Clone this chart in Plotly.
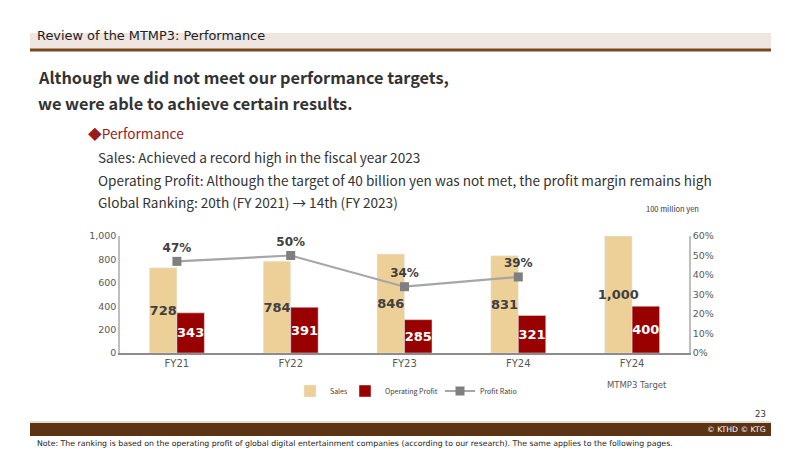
import plotly.graph_objects as go

categories = ["FY21", "FY22", "FY23", "FY24", "FY24 Target"]
tick_labels = ["FY21", "FY22", "FY23", "FY24", "FY24"]
target_note = "MTMP3 Target"
sales = [728, 784, 846, 831, 1000]
op_profit = [343, 391, 285, 321, 400]
ratio_cats = ["FY21", "FY22", "FY23", "FY24"]
profit_ratio = [0.47, 0.50, 0.34, 0.39]
y_ticks = [0, 200, 400, 600, 800, 1000]
y2_ticks = [0, 0.1, 0.2, 0.3, 0.4, 0.5, 0.6]

W, H = 800, 449
L, R, T, B = 120, 689, 236, 353

def px(x):
    return (x - L) / (R - L)

def py(y):
    return (B - y) / (B - T)

FONT = "Noto Sans CJK JP"
NUMF = "DejaVu Sans"

fig = go.Figure()
fig.add_trace(go.Bar(
    x=categories, y=sales, name="Sales", marker_color="#EDD098", legend="legend",
    texttemplate="%{y:,}", textposition="inside", insidetextanchor="middle",
    textangle=0, textfont=dict(family=NUMF, size=13, color="#404040", weight="bold"),
))
fig.add_trace(go.Bar(
    x=categories, y=op_profit, name="Operating Profit", marker_color="#990000", legend="legend2",
    texttemplate="%{y:,}", textposition="inside", insidetextanchor="middle",
    textangle=0, textfont=dict(family=NUMF, size=13, color="white", weight="bold"),
))
fig.add_trace(go.Scatter(
    x=ratio_cats, y=profit_ratio, name="Profit Ratio", yaxis="y2", legend="legend3",
    mode="lines+markers+text", line=dict(color="#A6A6A6", width=2.2),
    marker=dict(symbol="square", size=9, color="#7F7F7F"),
    texttemplate="%{y:.0%}", textposition="top center", cliponaxis=False,
    textfont=dict(family=NUMF, size=12, color="#404040", weight="bold"),
))

def leg(xleft):
    return dict(orientation="h", x=px(xleft), xanchor="left", yref="container",
                y=1 - 391 / H, yanchor="middle", bgcolor="rgba(0,0,0,0)",
                font=dict(family=FONT, size=7, color="#404040"), itemwidth=30)

fig.update_layout(
    width=W, height=H, margin=dict(l=L, r=W - R, t=T, b=H - B, autoexpand=False),
    paper_bgcolor="white", plot_bgcolor="white",
    barmode="group", bargap=0.517, bargroupgap=0,
    uniformtext=dict(minsize=13, mode="show"),
    showlegend=True,
    legend=leg(290), legend2=leg(345), legend3=leg(440),
    xaxis=dict(type="category", categoryarray=categories, tickvals=categories,
               ticktext=tick_labels, showline=True, linecolor="#8c8c8c", linewidth=1.5,
               ticks="", tickfont=dict(family=NUMF, size=10, color="#595959"),
               showgrid=False, fixedrange=True, automargin=False),
    yaxis=dict(range=[0, 1000], tickvals=y_ticks, tickformat=",", showgrid=False,
               showline=True, linecolor="#bfbfbf", linewidth=1.5, zeroline=False,
               tickfont=dict(family=NUMF, size=9.5, color="#595959"), ticks="",
               automargin=False),
    yaxis2=dict(range=[0, 0.6], tickvals=y2_ticks, tickformat=".0%", overlaying="y",
                side="right", showgrid=False, showline=True, linecolor="#bfbfbf",
                linewidth=1.5, zeroline=False, automargin=False,
                tickfont=dict(family=NUMF, size=9.5, color="#595959"), ticks=""),
    font=dict(family=FONT),
)

shapes = []
# header band
shapes.append(dict(type="rect", xref="paper", yref="paper", x0=px(30), x1=px(771),
                   y0=py(49), y1=py(33), fillcolor="#EFE6E2", line_width=0, layer="below"))
shapes.append(dict(type="rect", xref="paper", yref="paper", x0=px(30), x1=px(771),
                   y0=py(51.5), y1=py(48.5), fillcolor="#7A4A1E", line_width=0))
# footer
shapes.append(dict(type="line", xref="paper", yref="paper", x0=px(30), x1=px(771),
                   y0=py(422), y1=py(422), line=dict(color="#C9B9A8", width=1)))
shapes.append(dict(type="rect", xref="paper", yref="paper", x0=px(30), x1=px(771),
                   y0=py(436), y1=py(423), fillcolor="#5C3314", line_width=0))
fig.update_layout(shapes=shapes)

def txt(x, y, s, size, color="#333333", anchor="left", weight="normal", family=FONT):
    fig.add_annotation(xref="paper", yref="paper", x=px(x), y=py(y), text=s,
                       showarrow=False, xanchor=anchor, yanchor="middle",
                       font=dict(family=family, size=size, color=color, weight=weight))

fig.add_annotation(xref="x", yref="paper", x=categories[-1], y=py(385), text=target_note,
                   showarrow=False, xanchor="center", yanchor="middle", xshift=5,
                   font=dict(family=NUMF, size=8.5, color="#595959"))

txt(35, 35, "Review of the MTMP3: Performance", 12.9, "#222222", family="DejaVu Sans")
txt(36, 77, "Although we did not meet our performance targets,", 16.3, "#333333", weight="bold")
txt(36, 103, "we were able to achieve certain results.", 16.3, "#333333", weight="bold")
txt(86, 133, "◆Performance", 13.7, "#9B1B1B")
txt(96, 157, "Sales: Achieved a record high in the fiscal year 2023", 13.6)
txt(96, 180, "Operating Profit: Although the target of 40 billion yen was not met, the profit margin remains high", 13.6)
txt(96, 202, "Global Ranking: 20th (FY 2021) → 14th (FY 2023)", 13.6)
txt(644, 208, "100 million yen", 7.5, "#333333")
txt(768, 414, "23", 8.5, "#333333", anchor="right", family="DejaVu Sans")
txt(768, 429, "© KTHD © KTG", 7.7, "white", anchor="right", family="DejaVu Sans")
txt(35, 443, "Note: The ranking is based on the operating profit of global digital entertainment companies (according to our research). The same applies to the following pages.", 7.8, "#222222", family="DejaVu Sans")

fig.write_html("out.html")
